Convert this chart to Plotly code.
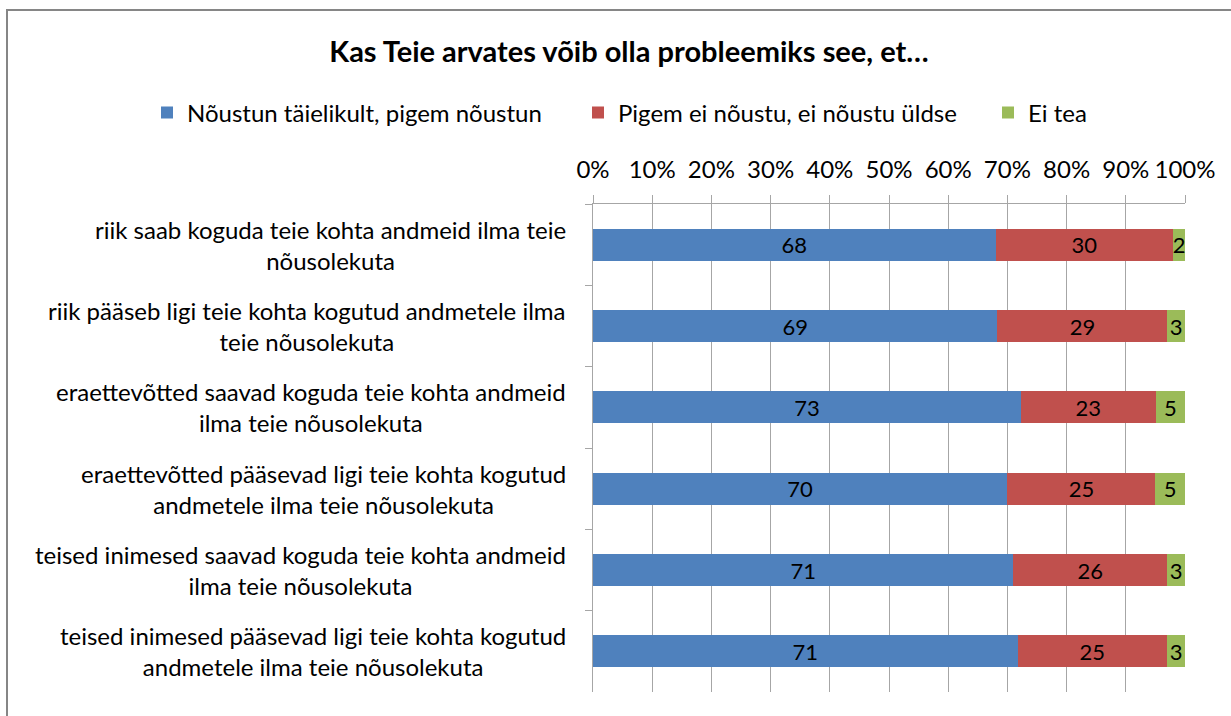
import plotly.graph_objects as go

categories = [
    "riik saab koguda teie kohta andmeid ilma teie<br>nõusolekuta",
    "riik pääseb ligi teie kohta kogutud andmetele ilma<br>teie nõusolekuta",
    "eraettevõtted saavad koguda teie kohta andmeid<br>ilma teie nõusolekuta",
    "eraettevõtted pääsevad ligi teie kohta kogutud<br>andmetele ilma teie nõusolekuta",
    "teised inimesed saavad koguda teie kohta andmeid<br>ilma teie nõusolekuta",
    "teised inimesed pääsevad ligi teie kohta kogutud<br>andmetele ilma teie nõusolekuta",
]
series_names = ["Nõustun täielikult, pigem nõustun", "Pigem ei nõustu, ei nõustu üldse", "Ei tea"]
agree = [68, 69, 73, 70, 71, 71]
disagree = [30, 29, 23, 25, 26, 25]
dont_know = [2, 3, 5, 5, 3, 3]
colors = ["#4F81BD", "#C0504D", "#9BBB59"]
tick_vals = [0, 10, 20, 30, 40, 50, 60, 70, 80, 90, 100]
tick_text = ["0%", "10%", "20%", "30%", "40%", "50%", "60%", "70%", "80%", "90%", "100%"]
title_text = "Kas Teie arvates võib olla probleemiks see, et…"

FONT = "Lato"
W, H = 1231, 716
L, R, T, B = 593, 46, 204, 24
pw, ph = W - L - R, H - T - B
legend_ids = ["legend", "legend2", "legend3"]
legend_x_px = [147, 578, 988]

fig = go.Figure()
for name, vals, col, lg in zip(series_names, [agree, disagree, dont_know], colors, legend_ids):
    fig.add_trace(go.Bar(
        y=categories, x=vals, name=name, orientation="h", legend=lg,
        marker=dict(color=col, line=dict(width=0)),
        text=vals, texttemplate="%{text}", textposition="inside",
        insidetextanchor="middle", textangle=0, constraintext="none",
        textfont=dict(family=FONT, size=22, color="black"),
    ))

for cat in categories:
    fig.add_annotation(
        x=(568 - L) / pw, xref="paper", y=cat, yref="y",
        text=cat, showarrow=False, xanchor="right", yanchor="middle",
        align="center", font=dict(family=FONT, size=24, color="black"),
    )

# outer chart border
fig.add_shape(type="rect", xref="paper", yref="paper",
              x0=(7 - L) / pw, x1=(W + 10 - L) / pw,
              y0=(H - B - (H + 10)) / ph, y1=(H - B - 10) / ph,
              line=dict(color="#868686", width=2), fillcolor="rgba(0,0,0,0)", layer="below")

legend_common = dict(orientation="h", xref="container", yref="container", xanchor="left",
                     y=1 - 113 / H, yanchor="middle",
                     font=dict(family=FONT, size=24, color="black"),
                     itemclick=False, bgcolor="rgba(0,0,0,0)")

fig.update_layout(
    width=W, height=H,
    margin=dict(l=L, r=R, t=T, b=B, autoexpand=False),
    barmode="stack", barnorm="percent", bargap=0.607,
    paper_bgcolor="white", plot_bgcolor="white",
    font=dict(family=FONT, size=24, color="black"),
    title=dict(text=f"<b>{title_text}</b>", xref="container", x=629 / W, xanchor="center",
               y=1 - 52 / H, yanchor="middle", font=dict(family=FONT, size=29, color="black")),
    legend=dict(x=legend_x_px[0] / W, **legend_common),
    legend2=dict(x=legend_x_px[1] / W, **legend_common),
    legend3=dict(x=legend_x_px[2] / W, **legend_common),
    showlegend=True,
    xaxis=dict(side="top", range=[0, 100], tickvals=tick_vals, ticktext=tick_text,
               showgrid=True, gridcolor="#A6A6A6", gridwidth=1,
               showline=True, linecolor="#A6A6A6", linewidth=1,
               ticks="outside", ticklen=8, tickcolor="#A6A6A6", ticklabelstandoff=7,
               zeroline=False, tickfont=dict(family=FONT, size=24, color="black")),
    yaxis=dict(autorange="reversed", showticklabels=False, showline=True,
               linecolor="#A6A6A6", linewidth=1, ticks="outside", ticklen=7,
               tickcolor="#A6A6A6", tickson="boundaries", showgrid=False),
)

fig.write_html("out.html", config={"displayModeBar": False},
               post_script="document.body.style.margin='0';")
